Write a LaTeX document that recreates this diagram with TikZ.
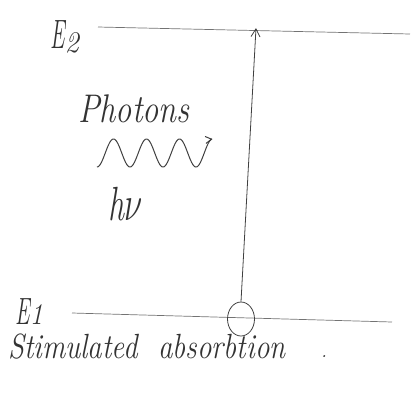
\documentclass[tikz,border=0pt]{standalone}
\usepackage{fontspec}
\setmainfont{Latin Modern Roman}
\usetikzlibrary{arrows.meta,shapes.geometric}
\newcommand{\stretched}[3]{\scalebox{#1}[#2]{#3}}
\begin{document}
\begin{tikzpicture}[x=1pt,y=-1pt,
  level/.style={draw=black!55,line width=0.7pt},
  hand/.style={font=\fontsize{20}{22}\selectfont\itshape,inner sep=0pt,text=black!80,anchor=base west},
  ink/.style={draw=black!75,line width=0.8pt}]
\useasboundingbox (0,0) rectangle (415,392);
% energy levels
\coordinate (e2a) at (98,27);
\coordinate (e2b) at (410,34);
\coordinate (e1a) at (72,313);
\coordinate (e1b) at (392,322);
\draw[level] (e2a) -- (e2b);
\draw[level] (e1a) -- (e1b);
\node[hand] (E2) at (50,48) {\stretched{1.1}{2.05}{E}\raisebox{-4pt}{\stretched{1.4}{1.5}{2}}};
\node[hand] (E1) at (15,324) {\stretched{1.1}{1.9}{E}\stretched{1.3}{1.5}{1}};
% atom
\node[ellipse,draw=black!75,line width=0.8pt,minimum width=27pt,minimum height=34pt,inner sep=0pt] (atom) at (241,319) {};
\coordinate (top) at (256,28);
\draw[ink,-{Straight Barb[length=8pt,width=9pt]}] (atom.north) -- (top);
% photon
\node[hand] (ph) at (78,122) {\stretched{1.62}{2.0}{Photons}};
\draw[ink,line width=1pt,-{Straight Barb[length=6pt,width=7pt]}]
  plot[domain=0:3.5,samples=140,smooth] ({97+\x*33},{153+14*cos(\x*360)});
\node[hand] (hv) at (108,220) {\stretched{1.6}{2.4}{h$\nu$}};
% caption
\node[hand] (cap) at (8,358) {\stretched{1.45}{1.75}{Stimulated\ \ absorbtion}};
\node[hand] (dot) at (321,357) {.};
\end{tikzpicture}
\end{document}
